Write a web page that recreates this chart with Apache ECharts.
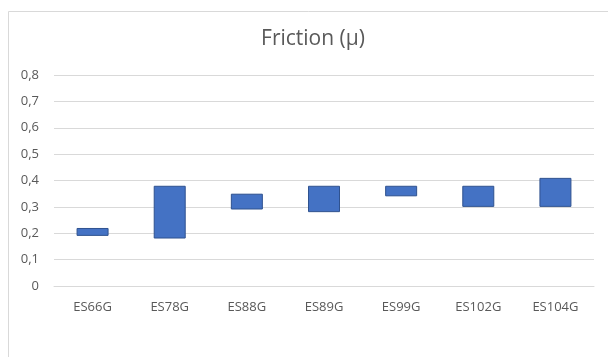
<!DOCTYPE html>
<html>
<head>
<meta charset="utf-8">
<style>
  html, body { margin: 0; padding: 0; background: #ffffff; }
  #chart { width: 608px; height: 357px; }
</style>
<script src="https://cdn.jsdelivr.net/npm/echarts@6/dist/echarts.min.js"></script>
</head>
<body>
<div id="chart"></div>
<script>
// Friction coefficient range per sample: lowest and highest measured value
var categories = ['ES66G', 'ES78G', 'ES88G', 'ES89G', 'ES99G', 'ES102G', 'ES104G'];
var frictionLow  = [0.19, 0.18, 0.29, 0.28, 0.34, 0.30, 0.30];
var frictionHigh = [0.22, 0.38, 0.35, 0.38, 0.38, 0.38, 0.41];
var yTicks = { min: 0, max: 0.8, step: 0.1 };

// Floating bars: an invisible base up to the low value, then the span up to the high value
var span = frictionHigh.map(function (h, i) { return +(h - frictionLow[i]).toFixed(4); });

var textColor = '#595959';
var gridColor = '#D9D9D9';
var font = '"Open Sans", "Noto Sans", sans-serif';

var chart = echarts.init(document.getElementById('chart'), null, { renderer: 'canvas' });
chart.setOption({
  animation: false,
  backgroundColor: '#ffffff',
  graphic: [{
    type: 'rect',
    shape: { x: 8.5, y: 11.5, width: 640, height: 400 },
    style: { fill: 'none', stroke: gridColor, lineWidth: 1 },
    silent: true,
    z: -1
  }],
  title: {
    text: 'Friction (μ)',
    left: 308,
    textAlign: 'center',
    top: 24,
    textStyle: { color: textColor, fontFamily: font, fontSize: 21, fontWeight: 'normal' }
  },
  grid: { left: 54, right: 14, top: 75, bottom: 71, containLabel: false },
  xAxis: {
    type: 'category',
    data: categories,
    axisLine: { show: true, lineStyle: { color: gridColor, width: 1 } },
    axisTick: { show: false },
    axisLabel: { color: textColor, fontFamily: font, fontSize: 13, margin: 15 }
  },
  yAxis: {
    type: 'value',
    min: yTicks.min,
    max: yTicks.max,
    interval: yTicks.step,
    axisLine: { show: false },
    axisTick: { show: false },
    splitLine: { lineStyle: { color: gridColor, width: 1 } },
    axisLabel: {
      color: textColor, fontFamily: font, fontSize: 13, margin: 15,
      formatter: function (v) { return (Math.round(v * 10) / 10).toString().replace('.', ','); }
    }
  },
  series: [
    {
      name: 'base',
      type: 'bar',
      stack: 'range',
      data: frictionLow,
      itemStyle: { color: 'rgba(0,0,0,0)', borderColor: 'rgba(0,0,0,0)' },
      barWidth: 32,
      silent: true
    },
    {
      name: 'range',
      type: 'bar',
      stack: 'range',
      data: span,
      barWidth: 32,
      itemStyle: { color: '#4472C4', borderColor: '#2F528F', borderWidth: 1 }
    }
  ]
});
</script>
</body>
</html>
